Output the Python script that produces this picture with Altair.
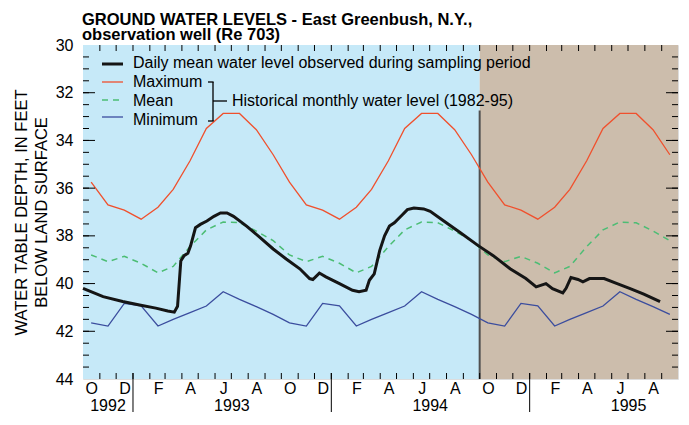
import altair as alt
import pandas as pd

# ---------------- data ----------------
# Historical monthly water level (1982-95), water-year order Oct..Sep (ft below land surface)
hist_month_num = [10, 11, 12, 1, 2, 3, 4, 5, 6, 7, 8, 9]
hist_max = [35.75, 36.7, 36.92, 37.3, 36.8, 36.05, 34.85, 33.5, 32.87, 32.87, 33.55, 34.6]
hist_mean = [38.8, 39.08, 38.86, 39.15, 39.55, 39.28, 38.45, 37.75, 37.42, 37.45, 37.8, 38.2]
hist_min = [41.65, 41.78, 40.83, 40.93, 41.78, 41.5, 41.22, 40.94, 40.34, 40.66, 40.97, 41.29]
water_years = [1993, 1994, 1995]

# Daily mean water level observed (key points)
obs_dates = [
    "1992-10-01", "1992-11-07", "1992-12-13", "1993-01-13", "1993-02-12", "1993-03-06",
    "1993-03-18", "1993-03-24", "1993-03-30", "1993-04-05", "1993-04-12", "1993-04-17",
    "1993-04-26", "1993-05-05", "1993-05-17", "1993-05-30", "1993-06-11", "1993-06-23",
    "1993-07-05", "1993-07-29", "1993-08-23", "1993-09-16", "1993-10-10", "1993-11-04",
    "1993-11-22", "1993-11-28", "1993-12-10", "1993-12-22", "1994-01-16", "1994-02-09",
    "1994-02-21", "1994-03-06", "1994-03-12", "1994-03-21", "1994-03-31", "1994-04-09",
    "1994-04-18", "1994-04-27", "1994-05-09", "1994-05-21", "1994-06-02", "1994-06-20",
    "1994-07-02", "1994-07-27", "1994-08-26", "1994-09-29", "1994-10-26", "1994-11-26",
    "1994-12-25", "1995-01-13", "1995-01-31", "1995-02-12", "1995-03-03", "1995-03-09",
    "1995-03-18", "1995-03-31", "1995-04-09", "1995-04-21", "1995-05-18", "1995-06-11",
    "1995-07-05", "1995-07-30", "1995-08-29",
]
obs_depth = [
    40.2, 40.55, 40.75, 40.9, 41.03, 41.15,
    41.2, 40.95, 39.05, 38.83, 38.73, 38.42,
    37.66, 37.52, 37.38, 37.18, 37.04, 37.04,
    37.18, 37.59, 38.07, 38.55, 38.97, 39.38,
    39.79, 39.83, 39.56, 39.72, 40.0, 40.28,
    40.34, 40.28, 39.86, 39.59, 38.62, 38.0,
    37.59, 37.45, 37.18, 36.9, 36.83, 36.87,
    36.97, 37.38, 37.86, 38.42, 38.83, 39.38,
    39.79, 40.14, 40.0, 40.21, 40.39, 40.2,
    39.75, 39.83, 39.93, 39.79, 39.79, 40.0,
    40.21, 40.44, 40.76,
]

# Periods (background shading)
period_start = ["1992-10-01", "1994-10-01"]
period_end = ["1994-10-01", "1995-10-01"]
period_name = ["before", "sampling"]
sampling_start = ["1994-10-01"]

# Axis labels
month_label_dates = ["1992-10-01", "1992-12-01", "1993-02-01", "1993-04-01", "1993-06-01",
                     "1993-08-01", "1993-10-01", "1993-12-01", "1994-02-01", "1994-04-01",
                     "1994-06-01", "1994-08-01", "1994-10-01", "1994-12-01", "1995-02-01",
                     "1995-04-01", "1995-06-01", "1995-08-01"]
year_labels = ["1992", "1993", "1994", "1995"]
year_label_dates = ["1992-11-16", "1993-07-02", "1994-07-02", "1995-07-02"]
year_breaks = ["1993-01-01", "1994-01-01", "1995-01-01"]
y_labels = [30, 32, 34, 36, 38, 40, 42, 44]
title_lines = ["GROUND WATER LEVELS - East Greenbush, N.Y.,", "observation well (Re 703)"]

# ---------------- tables ----------------
rows = []
for wy in water_years:
    for m, mx, mn, lo in zip(hist_month_num, hist_max, hist_mean, hist_min):
        yr = wy - 1 if m >= 10 else wy
        rows.append({"date": f"{yr}-{m:02d}-16", "max": mx, "mean": mn, "min": lo})
hist = pd.DataFrame(rows)
obs = pd.DataFrame({"date": obs_dates, "depth": obs_depth})
periods = pd.DataFrame({"start": period_start, "end": period_end, "name": period_name})
month_ticks = pd.DataFrame({"date": pd.date_range("1992-11-01", "1995-09-01", freq="MS").strftime("%Y-%m-%d")})
ymin_ticks = pd.DataFrame({"v": [30 + 0.5 * i for i in range(1, 28)]})
ymaj_ticks = pd.DataFrame({"v": y_labels[1:-1]})
years = pd.DataFrame({"date": year_label_dates, "label": year_labels})
ybreaks = pd.DataFrame({"date": year_breaks})
one = pd.DataFrame({"k": [0]})

W, H = 595, 334
FONT = "Liberation Sans"

xscale = alt.Scale(type="utc", domain=[alt.DateTime(year=1992, month=10, date=1, utc=True),
                                       alt.DateTime(year=1995, month=10, date=1, utc=True)])
yscale = alt.Scale(domain=[30, 44], reverse=True, zero=False, nice=False)

month_vals = [alt.DateTime(year=int(d[:4]), month=int(d[5:7]), date=1, utc=True) for d in month_label_dates]
xaxis = alt.Axis(values=month_vals, labelExpr="substring(utcFormat(datum.value, '%b'), 0, 1)",
                 labelOffset=W / 72, ticks=False, domain=False, grid=False, title=None,
                 labelFontSize=16, labelFont=FONT, labelColor="black", labelPadding=1,
                 labelAlign="center", labelFlush=False, labelOverlap=False)
yaxis = alt.Axis(values=y_labels, ticks=False, domain=False, grid=False,
                 title=["WATER TABLE DEPTH, IN FEET", "BELOW LAND SURFACE"],
                 titleFontSize=16.5, titleFont=FONT, titleFontWeight="normal", titleColor="black",
                 titlePadding=6, titleLineHeight=20,
                 labelFontSize=16, labelFont=FONT, labelColor="black", labelPadding=10)

X = lambda f: alt.X(f, type="temporal", scale=xscale, axis=xaxis)
Y = lambda f: alt.Y(f, type="quantitative", scale=yscale, axis=yaxis)

bg = alt.Chart(periods).mark_rect().encode(
    x=X("start"), x2="end", y=alt.datum(30, type="quantitative", scale=yscale, axis=yaxis),
    y2=alt.datum(44),
    color=alt.Color("name:N", scale=alt.Scale(domain=period_name, range=["#c6e9f8", "#ccbdac"]), legend=None),
)

sep = alt.Chart(pd.DataFrame({"date": sampling_start})).mark_rule(color="#505050", strokeWidth=2).encode(
    x=X("date"), y=alt.datum(32.75, type="quantitative", scale=yscale, axis=yaxis), y2=alt.datum(44))

C_MAX, C_MEAN, C_MIN, C_OBS = "#f0502d", "#4cbd74", "#3b4d9e", "#151515"
line_max = alt.Chart(hist).mark_line(color=C_MAX, strokeWidth=1.3).encode(x=X("date"), y=Y("max"))
line_mean = alt.Chart(hist).mark_line(color=C_MEAN, strokeWidth=1.5, strokeDash=[6, 5]).encode(x=X("date"), y=Y("mean"))
line_min = alt.Chart(hist).mark_line(color=C_MIN, strokeWidth=1.3).encode(x=X("date"), y=Y("min"))
line_obs = alt.Chart(obs).mark_line(color=C_OBS, strokeWidth=3).encode(x=X("date"), y=Y("depth"))

tick_top = alt.Chart(month_ticks).mark_rule(color="black", strokeWidth=1).encode(
    x=X("date"), y=alt.value(0), y2=alt.value(6))
tick_bot = alt.Chart(month_ticks).mark_rule(color="black", strokeWidth=1).encode(
    x=X("date"), y=alt.value(H - 6), y2=alt.value(H))
year_rule = alt.Chart(ybreaks).mark_rule(color="black", strokeWidth=1).encode(
    x=X("date"), y=alt.value(H - 6), y2=alt.value(H + 33))
year_text = alt.Chart(years).mark_text(fontSize=16, font=FONT, color="black", baseline="alphabetic").encode(
    x=X("date"), y=alt.value(H + 32), text="label:N")

ytick_l = alt.Chart(ymin_ticks).mark_rule(color="black").encode(y=Y("v"), x=alt.value(0), x2=alt.value(6))
ytick_r = alt.Chart(ymin_ticks).mark_rule(color="black").encode(y=Y("v"), x=alt.value(W - 6), x2=alt.value(W))
ymaj_l = alt.Chart(ymaj_ticks).mark_rule(color="black").encode(y=Y("v"), x=alt.value(0), x2=alt.value(12))
ymaj_r = alt.Chart(ymaj_ticks).mark_rule(color="black").encode(y=Y("v"), x=alt.value(W - 12), x2=alt.value(W))

# ---------------- title (as text, above the plot) ----------------
titles = [alt.Chart(one).mark_text(text=t, fontSize=16.5, font=FONT, fontWeight="bold", color="black",
                                   align="left", baseline="alphabetic").encode(x=alt.value(-1), y=alt.value(yv))
          for t, yv in zip(title_lines, [-20, -5])]

# ---------------- legend ----------------
leg_samples = []
for yv, col, w, dash in [(19, C_OBS, 3, None), (37, C_MAX, 1.3, None),
                          (55, C_MEAN, 1.5, [6, 5]), (72, C_MIN, 1.3, None)]:
    kw = dict(color=col, strokeWidth=w)
    if dash:
        kw["strokeDash"] = dash
    leg_samples.append(alt.Chart(one).mark_rule(**kw).encode(
        x=alt.value(19), x2=alt.value(40), y=alt.value(yv)))

leg_texts = []
for yv, txt in [(23, "Daily mean water level observed during sampling period"),
                (42, "Maximum"), (61, "Mean"), (80, "Minimum")]:
    leg_texts.append(alt.Chart(one).mark_text(
        text=txt, fontSize=16, font=FONT, color="black", align="left", baseline="alphabetic"
    ).encode(x=alt.value(50), y=alt.value(yv)))
leg_texts.append(alt.Chart(one).mark_text(
    text="Historical monthly water level (1982-95)", fontSize=16, font=FONT, color="black",
    align="left", baseline="alphabetic").encode(x=alt.value(149), y=alt.value(61)))

bracket = [
    alt.Chart(one).mark_rule(color="black", strokeWidth=1.3).encode(x=alt.value(130), y=alt.value(37), y2=alt.value(76)),
    alt.Chart(one).mark_rule(color="black", strokeWidth=1.3).encode(x=alt.value(125), x2=alt.value(130.6), y=alt.value(37)),
    alt.Chart(one).mark_rule(color="black", strokeWidth=1.3).encode(x=alt.value(125), x2=alt.value(130.6), y=alt.value(76)),
    alt.Chart(one).mark_rule(color="black", strokeWidth=1.3).encode(x=alt.value(130), x2=alt.value(144), y=alt.value(56)),
]

chart = alt.layer(
    bg, sep, line_max, line_mean, line_min, line_obs,
    tick_top, tick_bot, year_rule, year_text, ytick_l, ytick_r, ymaj_l, ymaj_r,
    *titles, *leg_samples, *leg_texts, *bracket,
).properties(
    width=W, height=H,
    autosize=alt.AutoSizeParams(type="none"),
    padding={"left": 75, "top": 37, "right": 1, "bottom": 35},
).configure_view(stroke="black", strokeWidth=1.2).configure(background="white")

chart.save("out.html", embed_options={"renderer": "svg", "actions": False})
